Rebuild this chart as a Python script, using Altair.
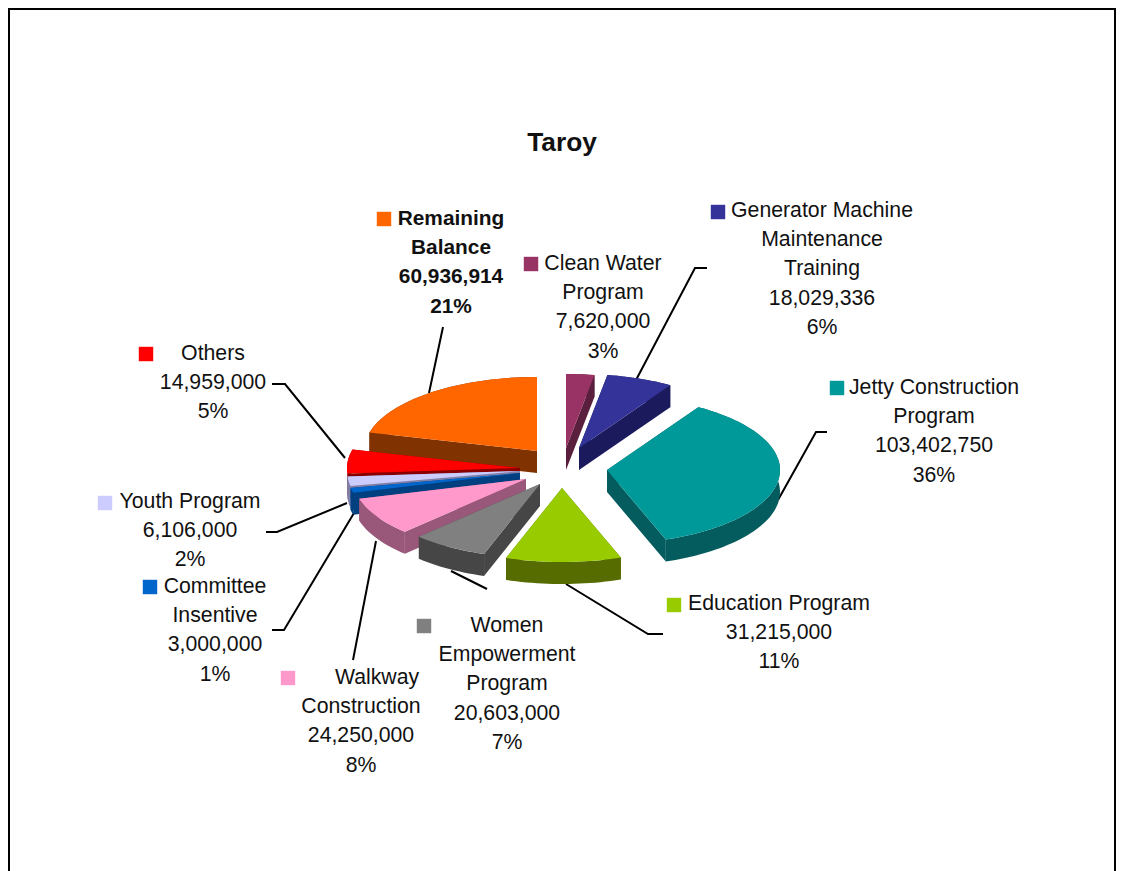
import math
import altair as alt
import pandas as pd

# ---- chart values -------------------------------------------------------
names = ["Clean Water Program", "Generator Machine Maintenance Training",
         "Jetty Construction Program", "Education Program",
         "Women Empowerment Program", "Walkway Construction",
         "Committee Insentive", "Youth Program", "Others", "Remaining Balance"]
values = [7620000, 18029336, 103402750, 31215000, 20603000, 24250000,
          3000000, 6106000, 14959000, 60936914]
percents = ["3%", "6%", "36%", "11%", "7%", "8%", "1%", "2%", "5%", "21%"]
label_lines = [["Clean Water", "Program"],
               ["Generator Machine", "Maintenance", "Training"],
               ["Jetty Construction", "Program"],
               ["Education Program"],
               ["Women", "Empowerment", "Program"],
               ["Walkway", "Construction"],
               ["Committee", "Insentive"],
               ["Youth Program"],
               ["Others"],
               ["Remaining", "Balance"]]

# ---- styling and layout (page pixels) -----------------------------------
tops = ["#993366", "#333399", "#009999", "#99CC00", "#808080", "#FF99CC",
        "#0066CC", "#CCCCFF", "#FF0000", "#FF6600"]
walls = ["#5A1F3C", "#1A1A5C", "#055C5E", "#566B00", "#464646", "#99577A",
         "#003F80", "#7F7FA8", "#8A0000", "#803300"]
apex_x = [566, 579, 607, 562, 540, 526, 520, 520, 520, 537]
apex_y = [448, 448, 470, 488, 484, 479, 473, 471, 468, 451]
paint_order = [9, 8, 7, 6, 5, 4, 3, 0, 1, 2]
RX, RY, DEPTH = 173, 74, 22
OX, OY = 8, 8
W, H = 1108, 863

label_x = [603, 822, 934, 779, 507, 361, 215, 190, 213, 451]
label_y = [264, 211, 388, 604, 626, 678, 587, 502, 354, 219]
line_gap = 29.2
key_x = [531, 718, 837, 674, 424, 288, 150, 105, 146, 384]
key_y = [264, 212, 388, 605, 626, 678, 587, 503, 354, 219]
leaders = [[],
           [(636, 380), (695, 268), (707, 268)],
           [(778, 500), (816, 432), (827, 432)],
           [(566, 584), (648, 634), (663, 634)],
           [(451, 571), (487, 589)],
           [(376, 541), (353, 660)],
           [(354, 513), (284, 630), (272, 630)],
           [(347, 503), (277, 532), (266, 532)],
           [(345, 458), (285, 384), (272, 384)],
           [(429, 393), (443, 327)]]
FONT = "Liberation Sans"

# ---- slices: wedge geometry follows from the values -----------------------
total = sum(values)
bounds = [0.0]
for v in values:
    bounds.append(bounds[-1] + v / total * 2 * math.pi)


def feature(ring, fill):
    ring = list(ring) + [ring[0]]
    return {"type": "Feature", "properties": {"fill": fill},
            "geometry": {"type": "Polygon",
                         "coordinates": [[[x, y] for x, y in ring]]}}


features = []
for i in paint_order:
    cx, cy = apex_x[i], apex_y[i]
    steps = max(4, int((bounds[i + 1] - bounds[i]) / 0.03))
    arc = []
    for k in range(steps + 1):
        t = bounds[i] + (bounds[i + 1] - bounds[i]) * k / steps
        arc.append((cx + RX * math.sin(t), cy - RY * math.cos(t)))
    down = lambda p: (p[0], p[1] + DEPTH)
    apex = (cx, cy)
    features.append(feature([apex, arc[0], down(arc[0]), down(apex)], walls[i]))
    features.append(feature([apex, arc[-1], down(arc[-1]), down(apex)], walls[i]))
    features.append(feature(arc + [down(p) for p in reversed(arc)], walls[i]))
    features.append(feature([apex] + arc, tops[i]))

pie = (alt.Chart(alt.InlineData(values=features, format=alt.DataFormat(type="json")))
       .mark_geoshape(strokeWidth=0)
       .encode(fill=alt.Color("properties.fill:N", scale=None))
       .project(type="identity", scale=1, translate=[-OX, -OY]))

# ---- labels, keys, leaders ----------------------------------------------
text_rows, key_rows, line_rows = [], [], []
for i, name in enumerate(names):
    lines = label_lines[i] + [f"{values[i]:,}", percents[i]]
    for n, s in enumerate(lines):
        cx = label_x[i]
        if name == "Walkway Construction" and n == 0:
            cx += 16
        text_rows.append({"x": cx - OX, "y": label_y[i] + n * line_gap - OY, "t": s,
                          "b": name == "Remaining Balance"})
    key_rows.append({"x": key_x[i] - OX, "y": key_y[i] - OY, "c": tops[i]})
    for n, (x, y) in enumerate(leaders[i]):
        line_rows.append({"x": x - OX, "y": y - OY, "id": i, "n": n})

X = alt.X("x:Q", scale=None, axis=None)
Y = alt.Y("y:Q", scale=None, axis=None)
text_df = pd.DataFrame(text_rows)

texts = (alt.Chart(text_df[~text_df["b"]][["x", "y", "t"]])
         .mark_text(font=FONT, fontSize=21.25, color="#111111", align="center", baseline="middle")
         .encode(x=X, y=Y, text="t:N"))
bold_texts = (alt.Chart(text_df[text_df["b"]][["x", "y", "t"]])
              .mark_text(font=FONT, fontSize=20.85, fontWeight="bold", color="#111111",
                         align="center", baseline="middle")
              .encode(x=X, y=Y, text="t:N"))
keys = (alt.Chart(pd.DataFrame(key_rows))
        .mark_square(size=208, opacity=1)
        .encode(x=X, y=Y, color=alt.Color("c:N", scale=None)))
lead = (alt.Chart(pd.DataFrame(line_rows))
        .mark_line(color="#000000", strokeWidth=2)
        .encode(x=X, y=Y, detail="id:N", order="n:Q"))
title = (alt.Chart(pd.DataFrame([{"x": 562 - OX, "y": 143 - OY, "t": "Taroy"}]))
         .mark_text(font=FONT, fontSize=26.3, fontWeight="bold", color="#111111",
                    align="center", baseline="middle")
         .encode(x=X, y=Y, text="t:N"))
frame = (alt.Chart(pd.DataFrame([
            {"x": 1, "y": 0, "id": 0, "n": 0}, {"x": 1, "y": H, "id": 0, "n": 1},
            {"x": 0, "y": 1, "id": 1, "n": 0}, {"x": W, "y": 1, "id": 1, "n": 1},
            {"x": W - 1, "y": 0, "id": 2, "n": 0}, {"x": W - 1, "y": H, "id": 2, "n": 1}]))
         .mark_line(color="#000000", strokeWidth=2)
         .encode(x=X, y=Y, detail="id:N", order="n:Q"))

chart = (alt.layer(frame, lead, pie, keys, texts, bold_texts, title)
         .properties(width=W, height=H, padding=0, background="white",
                     autosize=alt.AutoSizeParams(type="none"))
         .configure_view(stroke=None))
chart.save("out.html", embed_options={"renderer": "svg", "actions": False})
